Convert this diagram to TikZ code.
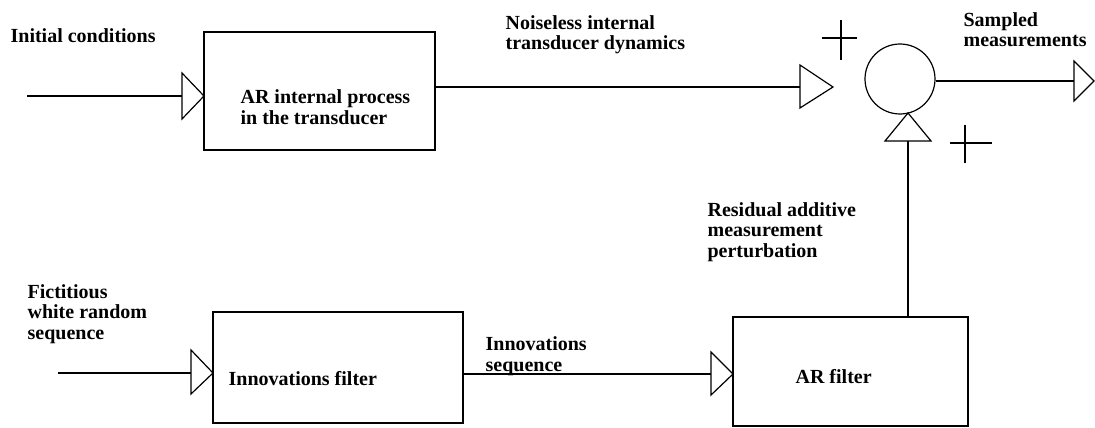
\documentclass[tikz,border=0pt]{standalone}
\usepackage{fontspec}
\setmainfont{Liberation Serif}
\begin{document}
\begin{tikzpicture}[x=1pt,y=-1pt,
  line width=1.2pt,
  lbl/.style={inner sep=0pt,anchor=base west,align=left,font=\fontsize{20}{20.5}\selectfont\bfseries},
  blk/.style={draw,rectangle,inner sep=0pt},
  tip/.style={draw,fill=white,line join=miter}]
\useasboundingbox (0,0) rectangle (1095,428);
% blocks
\node[blk,minimum width=231pt,minimum height=118pt] (ar1) at (319.5,91) {};
\node[blk,minimum width=250pt,minimum height=111pt] (inf) at (338,367.5) {};
\node[blk,minimum width=235pt,minimum height=109pt] (arf) at (850.5,371.5) {};
\node[draw,circle,minimum size=70pt,inner sep=0pt] (sum) at (900,79) {};
% coordinates
\coordinate (ic) at (27,96);
\coordinate (tA) at (182,96);
\coordinate (tB) at (800,87);
\coordinate (tC) at (1074,81);
\coordinate (fw) at (58,373);
\coordinate (tD) at (191,373);
\coordinate (tE) at (711,374);
\coordinate (tF) at (908,141);
% connectors
\draw (ic) -- (tA);
\draw (ar1.east |- tB) -- (tB);
\draw (sum.east |- tC) -- (tC);
\draw (fw) -- (tD);
\draw (inf.east |- tE) -- (tE);
\draw (arf.north -| tF) -- (tF);
% open arrowheads
\draw[tip] (tA) ++(0,-23) -- (204,96) -- (182,119) -- cycle;
\draw[tip] (tB) ++(0,-22) -- (833,87) -- (800,108) -- cycle;
\draw[tip] (tC) ++(0,-20) -- (1094,81) -- (1074,101) -- cycle;
\draw[tip] (tD) ++(0,-23) -- (213,373) -- (191,394) -- cycle;
\draw[tip] (tE) ++(0,-22) -- (733,374) -- (711,395) -- cycle;
\draw[tip] (tF) ++(-23,0) -- (908,113) -- (931,141) -- cycle;
% plus signs
\draw (822,38) -- (857,38) (841,20) -- (841,60);
\draw (950,143) -- (992,143) (965,125) -- (965,163);
% texts (anchor = baseline of last line)
\node[lbl] (t1) at (240,124) {AR internal process\\in the transducer};
\node[lbl] (t2) at (228,385) {Innovations filter};
\node[lbl] (t3) at (795,383) {AR filter};
\node[lbl] (l1) at (10,43) {Initial conditions};
\node[lbl] (l2) at (505,50) {Noiseless internal\\transducer dynamics};
\node[lbl] (l3) at (963,47) {Sampled\\measurements};
\node[lbl] (l4) at (707,257) {Residual additive\\measurement\\perturbation};
\node[lbl] (l5) at (27,339) {Fictitious\\white random\\sequence};
\node[lbl] (l6) at (485,371) {Innovations\\sequence};
\end{tikzpicture}
\end{document}
